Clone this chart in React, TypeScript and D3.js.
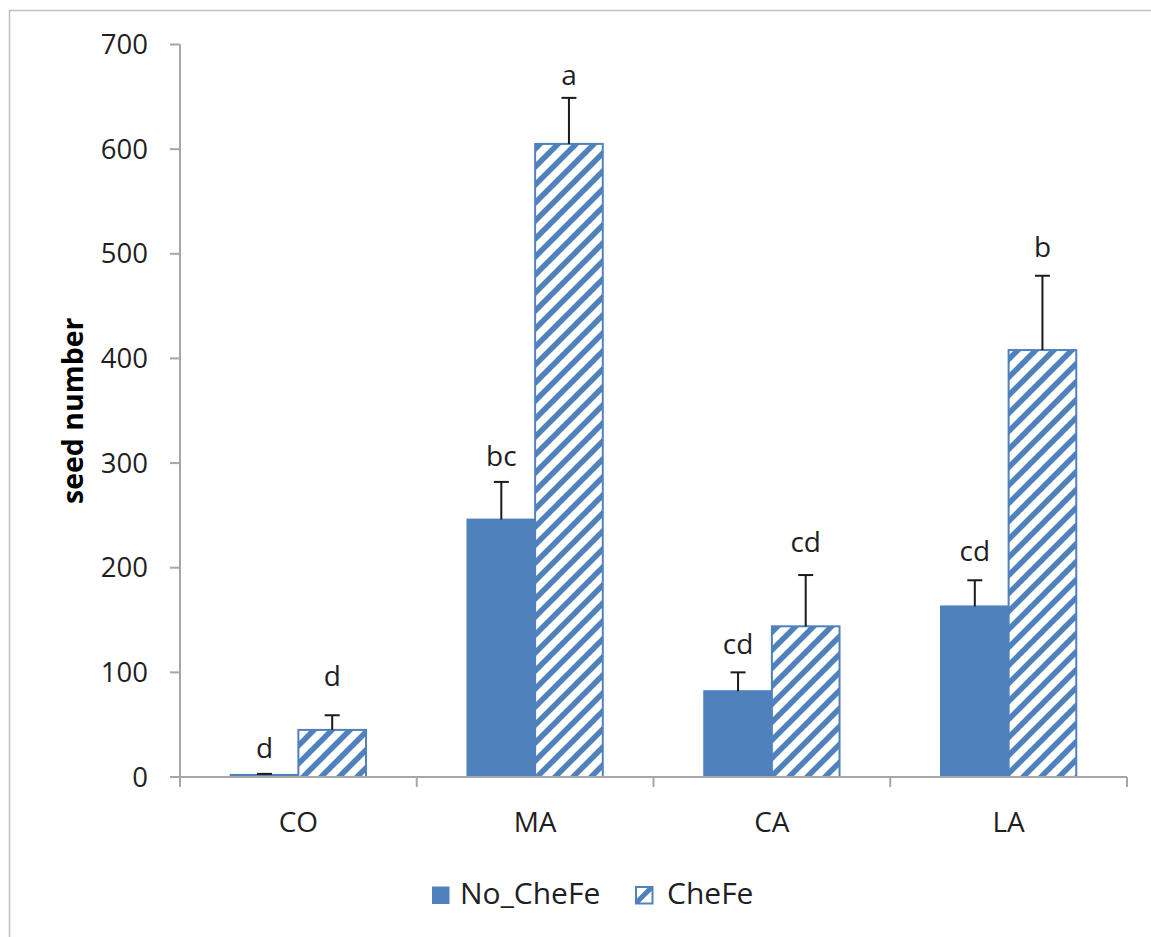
import React from "react";
import * as d3 from "d3";

const categories = ["CO", "MA", "CA", "LA"];
const seriesNames = ["No_CheFe", "CheFe"];
const noCheFe = [2, 246, 82, 163];
const noCheFeErr = [1, 36, 18, 25];
const cheFe = [45, 605, 144, 408];
const cheFeErr = [14, 44, 49, 71];
const noCheFeLetters = ["d", "bc", "cd", "cd"];
const cheFeLetters = ["d", "a", "cd", "b"];
// data-unit anchor for letter labels (baseline)
const noCheFeLetterAt = [18, 297, 118, 206];
const cheFeLetterAt = [87, 661, 215, 497];
const yTicks = [0, 100, 200, 300, 400, 500, 600, 700];

const W = 1151;
const H = 937;
const FONT = "'Open Sans', 'Noto Sans', sans-serif";
const BLUE = "#4f81bd";
const TEXT = "#1f1f1f";
const AXIS = "#a6a6a6";

export default function App() {
  const left = 180;
  const right = 1127;
  const top = 44.5;
  const bottom = 777;

  const y = d3.scaleLinear().domain([0, 700]).range([bottom, top]);
  const x0 = d3.scaleBand<string>().domain(categories).range([left, right]).padding(0);
  const bw = x0.bandwidth() / 3.5;

  const series = [
    { name: seriesNames[0], vals: noCheFe, err: noCheFeErr, letters: noCheFeLetters, at: noCheFeLetterAt, fill: BLUE },
    { name: seriesNames[1], vals: cheFe, err: cheFeErr, letters: cheFeLetters, at: cheFeLetterAt, fill: "url(#hatch)" },
  ];

  const barX = (ci: number, si: number) => {
    const c = x0(categories[ci])! + x0.bandwidth() / 2;
    return c - bw + si * bw;
  };

  return (
    <svg width={W} height={H} style={{ position: "absolute", left: 0, top: 0, background: "#fff" }}>
      <defs>
        <pattern id="hatch" patternUnits="userSpaceOnUse" width={18} height={18}>
          <rect width={18} height={18} fill="#fff" />
          <path d="M-4.5,4.5 L4.5,-4.5 M0,18 L18,0 M13.5,22.5 L22.5,13.5" stroke={BLUE} strokeWidth={5.5} />
        </pattern>
        <pattern id="hatchLegend" patternUnits="userSpaceOnUse" x={635} y={886} width={18} height={18}>
          <rect width={18} height={18} fill="#fff" />
          <path d="M0,18 L18,0" stroke={BLUE} strokeWidth={5} />
        </pattern>
      </defs>
      <rect x={9.5} y={10.5} width={W + 20} height={H + 20} fill="#fff" stroke="#bfbfbf" strokeWidth={1.5} />

      {/* y axis */}
      <line x1={left} x2={left} y1={top} y2={bottom} stroke={AXIS} strokeWidth={2} />
      {yTicks.map((t) => (
        <g key={t}>
          <line x1={left - 10} x2={left} y1={y(t)} y2={y(t)} stroke={AXIS} strokeWidth={2} />
          <text x={148} y={y(t)} dy="0.35em" textAnchor="end" fontFamily={FONT} fontSize={27.5} fill={TEXT}>
            {t}
          </text>
        </g>
      ))}
      <text
        transform={`translate(83,${(top + bottom) / 2}) rotate(-90)`}
        textAnchor="middle"
        fontFamily={FONT}
        fontSize={28.5}
        fontWeight="bold"
        fill="#000"
      >
        seed number
      </text>

      {/* bars */}
      {series.map((s, si) =>
        s.vals.map((v, ci) => {
          const bx = barX(ci, si);
          const cx = bx + bw / 2;
          const yt = y(v);
          const ye = y(v + s.err[ci]);
          return (
            <g key={`${si}-${ci}`}>
              <rect x={bx} y={yt} width={bw} height={bottom - yt} fill={s.fill} stroke={BLUE} strokeWidth={2} />
              <line x1={cx} x2={cx} y1={yt} y2={ye} stroke="#1a1a1a" strokeWidth={2} />
              <line x1={cx - 7.5} x2={cx + 7.5} y1={ye} y2={ye} stroke="#1a1a1a" strokeWidth={2} />
              <text x={cx} y={y(s.at[ci])} textAnchor="middle" fontFamily={FONT} fontSize={28} fill={TEXT}>
                {s.letters[ci]}
              </text>
            </g>
          );
        })
      )}

      {/* x axis */}
      <line x1={left} x2={right} y1={bottom} y2={bottom} stroke={AXIS} strokeWidth={2} />
      {[...categories.map((c) => x0(c)!), right].map((t, i) => (
        <line key={i} x1={t} x2={t} y1={bottom} y2={bottom + 10} stroke={AXIS} strokeWidth={2} />
      ))}
      {categories.map((c) => (
        <text key={c} x={x0(c)! + x0.bandwidth() / 2} y={832} textAnchor="middle" fontFamily={FONT} fontSize={28} fill={TEXT}>
          {c}
        </text>
      ))}

      {/* legend */}
      <rect x={432} y={886.5} width={17.5} height={17.5} fill={BLUE} />
      <text x={460} y={904} fontFamily={FONT} fontSize={30} fill={TEXT}>
        {seriesNames[0]}
      </text>
      <rect x={636} y={887} width={16.5} height={16.5} fill="url(#hatchLegend)" stroke={BLUE} strokeWidth={2} />
      <text x={667} y={904} fontFamily={FONT} fontSize={30} fill={TEXT}>
        {seriesNames[1]}
      </text>
    </svg>
  );
}
